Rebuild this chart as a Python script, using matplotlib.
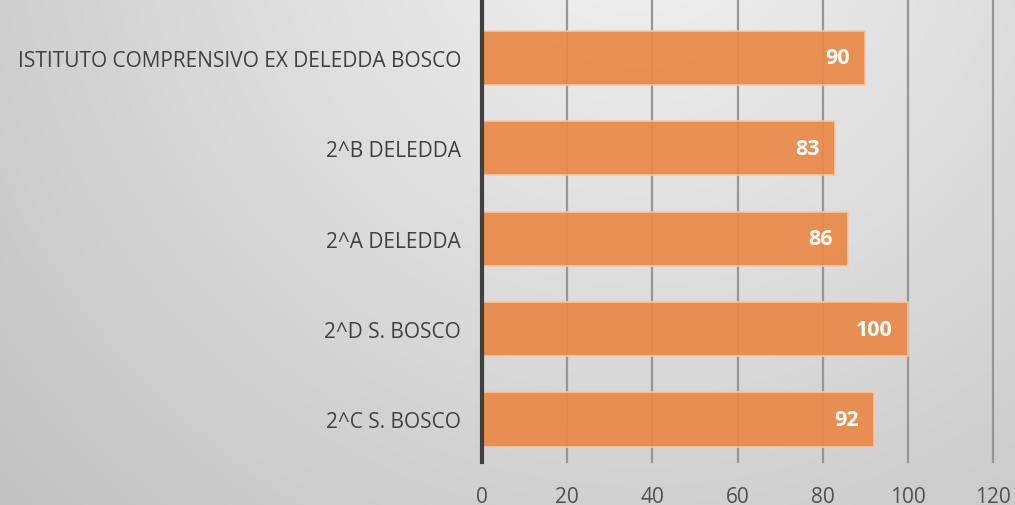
import numpy as np
import matplotlib
matplotlib.use("Agg")
import matplotlib.pyplot as plt

categories = ["2^C S. BOSCO", "2^D S. BOSCO", "2^A DELEDDA", "2^B DELEDDA",
              "ISTITUTO COMPRENSIVO EX DELEDDA BOSCO"]
values = [92, 100, 86, 83, 90]
x_ticks = [0, 20, 40, 60, 80, 100, 120]

plt.rcParams['font.family'] = ['Open Sans', 'DejaVu Sans']

fig = plt.figure(figsize=(10.15, 5.06), dpi=100)

# background radial gradient
bg = fig.add_axes([0, 0, 1, 1], zorder=-10)
h, w = 506, 1015
yy, xx = np.mgrid[0:h, 0:w]
cx, cy = 640, -100
d = np.sqrt((xx - cx) ** 2 + (yy - cy) ** 2)
d = d / d.max()
g = 0.95 - 0.19 * d
img = np.dstack([g, g, g])
bg.imshow(img, aspect='auto', extent=[0, 1, 0, 1], origin='upper')
bg.set_axis_off()

ax = fig.add_axes([482 / 1015, 43 / 506, 511 / 1015, 463 / 506])
ax.patch.set_alpha(0)
y = np.arange(len(categories))
ax.barh(y, values, height=0.6, color='#E98A48', edgecolor='#F6C9A8',
        linewidth=1.2, alpha=0.93, zorder=3)
ax.set_xlim(0, 120)
ax.set_ylim(-0.47, 4.65)
ax.set_xticks(x_ticks)
ax.set_yticks(y)
ax.set_yticklabels(categories)
ax.xaxis.grid(True, color='#969696', linewidth=1.6, zorder=1)
for gl in ax.get_xgridlines():
    gl.set_clip_on(False)
ax.set_axisbelow(True)
for s in ['top', 'right', 'bottom']:
    ax.spines[s].set_visible(False)
ax.spines['left'].set_color('#404040')
ax.spines['left'].set_linewidth(3)
ax.spines['left'].set_zorder(4)
ax.tick_params(axis='both', length=0, labelsize=15, colors='#404040')
ax.tick_params(axis='x', pad=17, labelcolor='#505050')
ax.tick_params(axis='y', pad=15)

for yi, v in zip(y, values):
    ax.text(v - 3.6, yi, str(v), ha='right', va='center', color='white',
            fontsize=15.5, fontweight='bold', zorder=5)

fig.savefig('out.png', dpi=100)
